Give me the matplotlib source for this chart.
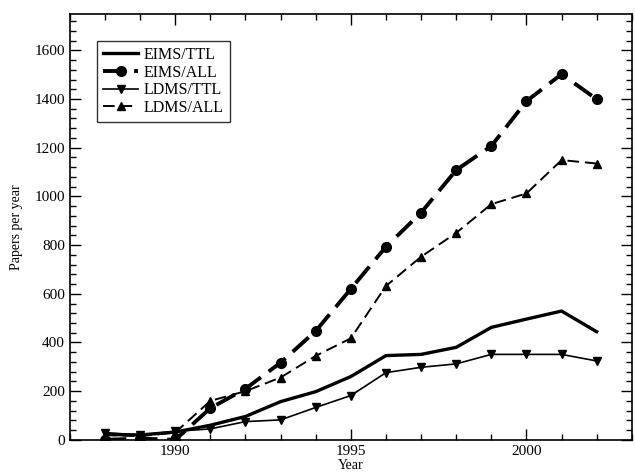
import matplotlib
matplotlib.use("Agg")
import matplotlib.pyplot as plt
from matplotlib.ticker import MultipleLocator

plt.rcParams['font.family'] = ['Liberation Serif', 'DejaVu Serif']

years = list(range(1988, 2003))
eims_ttl = [22, 20, 32, 60, 96, 157, 198, 260, 346, 351, 380, 462, 496, 529, 444]
eims_all = [0, 5, 0, 130, 210, 317, 447, 620, 793, 933, 1108, 1207, 1391, 1502, 1399]
ldms_ttl = [30, 20, 35, 45, 75, 82, 133, 182, 276, 298, 312, 351, 351, 351, 324]
ldms_all = [20, 15, 30, 160, 200, 256, 345, 417, 632, 752, 850, 968, 1012, 1149, 1135]

fig = plt.figure(figsize=(6.35, 4.75), dpi=100)
ax = fig.add_axes([0.110, 0.074, 0.885, 0.897])

ax.plot(years, eims_ttl, color='black', lw=2.4, label='EIMS/TTL')
ax.plot(years, eims_all, color='black', lw=2.8, dashes=(5.5, 2.5), marker='o', ms=7,
        label='EIMS/ALL')
ax.plot(years, ldms_ttl, color='black', lw=1.2, marker='v', ms=6, label='LDMS/TTL')
ax.plot(years, ldms_all, color='black', lw=1.4, dashes=(6, 3), marker='^', ms=6,
        label='LDMS/ALL')

ax.set_xlim(1987, 2003)
ax.set_ylim(0, 1750)
ax.xaxis.set_major_locator(MultipleLocator(5))
ax.xaxis.set_minor_locator(MultipleLocator(1))
ax.yaxis.set_major_locator(MultipleLocator(200))
ax.yaxis.set_minor_locator(MultipleLocator(40))
ax.tick_params(which='both', direction='in', top=True, right=True, labelsize=11)
ax.tick_params(which='major', length=8, width=1)
ax.tick_params(which='minor', length=4, width=1)
for s in ax.spines.values():
    s.set_linewidth(1.2)

ax.set_xlabel('Year', fontsize=10, labelpad=1)
ax.set_ylabel('Papers per year', fontsize=10, labelpad=8)

leg = ax.legend(loc='upper left', bbox_to_anchor=(0.048, 0.937), borderaxespad=0,
                fontsize=11.5, frameon=True, fancybox=False, edgecolor='black',
                handlelength=2.2, borderpad=0.4, labelspacing=0.1, handletextpad=0.3)
leg.get_frame().set_linewidth(1.0)

fig.savefig('out.png', dpi=100)
